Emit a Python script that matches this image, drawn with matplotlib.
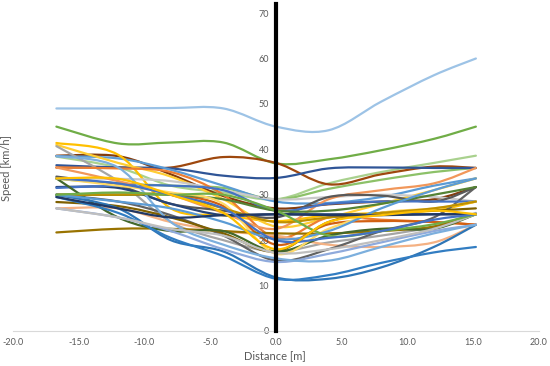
import matplotlib
matplotlib.use("Agg")
import matplotlib.pyplot as plt
from matplotlib.path import Path
from matplotlib.patches import PathPatch

plt.rcParams['font.family'] = ['Lato', 'DejaVu Sans']
plt.rcParams['axes.unicode_minus'] = False

## measurement positions along the track [m]
distance = [-16.7, -12, -8, -4, 0, 4, 8, 12, 15.2]

## speed profiles [km/h], one per run
run_colors = [
    '#9DC3E6', '#70AD47', '#A9D18E', '#8CC168', '#9E480E', '#843C0C',
    '#2F5597', '#5B9BD5', '#FFC000', '#FFCD33', '#A5A5A5', '#C9C9C9',
    '#ED7D31', '#F4B183', '#F1975A', '#D26012', '#636363', '#595959',
    '#264478', '#4472C4', '#997300', '#7F6000', '#43682B', '#548235',
    '#2E75B6', '#327DC2', '#8FAADC', '#7CAFDD', '#FFD966', '#BF9000',
    '#5B9BD5', '#203864', '#BFBFBF', '#70AD47', '#4472C4', '#FFC000',
]
run_speeds = [
    [49.0, 49.0, 49.1, 49.0, 45.0, 44.2, 50.5, 56.3, 60.0],
    [45.0, 41.3, 41.5, 41.5, 36.9, 37.8, 39.8, 42.3, 45.0],
    [38.4, 36.0, 32.0, 30.5, 29.0, 32.5, 35.0, 37.0, 38.6],
    [33.5, 32.5, 32.0, 31.5, 29.0, 31.3, 33.3, 35.0, 35.9],
    [36.0, 36.0, 36.0, 38.3, 37.0, 32.3, 34.5, 36.2, 35.9],
    [38.6, 38.5, 34.5, 29.7, 27.0, 27.9, 28.5, 29.0, 31.7],
    [36.5, 36.0, 35.8, 34.2, 33.7, 35.8, 36.0, 35.9, 35.9],
    [38.5, 38.0, 35.5, 32.0, 28.5, 28.2, 29.5, 32.0, 33.6],
    [41.4, 38.8, 27.0, 25.5, 24.2, 25.5, 26.0, 26.5, 28.5],
    [41.0, 37.0, 34.0, 29.0, 23.0, 25.0, 28.0, 31.0, 33.6],
    [40.7, 33.0, 24.0, 20.0, 17.5, 19.5, 21.0, 23.0, 26.0],
    [33.6, 33.5, 33.0, 31.0, 29.0, 29.5, 30.0, 29.5, 28.5],
    [36.0, 35.8, 35.0, 30.0, 20.5, 25.0, 24.5, 24.0, 23.4],
    [27.0, 27.0, 24.0, 22.0, 21.0, 19.0, 18.5, 19.5, 23.4],
    [36.0, 33.0, 30.0, 26.0, 22.5, 29.0, 31.0, 32.5, 35.9],
    [30.0, 30.0, 30.0, 27.5, 19.0, 23.5, 24.2, 24.0, 23.4],
    [30.0, 28.5, 25.5, 21.0, 15.5, 18.0, 22.0, 25.0, 31.7],
    [34.0, 32.0, 28.0, 26.5, 25.0, 29.5, 29.8, 28.5, 31.7],
    [31.7, 31.5, 28.0, 25.5, 25.7, 25.7, 25.7, 25.7, 25.7],
    [31.5, 32.0, 32.0, 31.0, 26.5, 28.0, 28.5, 28.5, 28.5],
    [21.7, 22.5, 22.5, 22.0, 21.5, 21.5, 22.0, 23.0, 25.7],
    [28.4, 27.5, 25.0, 21.5, 17.5, 24.0, 26.0, 26.5, 27.0],
    [33.6, 25.0, 22.0, 22.0, 17.5, 21.0, 22.5, 22.5, 25.7],
    [30.0, 30.0, 30.0, 29.0, 26.5, 26.5, 28.0, 30.0, 31.7],
    [30.0, 27.0, 20.0, 17.5, 11.8, 11.5, 14.0, 18.5, 23.4],
    [29.5, 26.0, 20.5, 16.5, 11.5, 12.3, 15.0, 17.3, 18.5],
    [27.0, 25.0, 22.0, 18.0, 15.2, 17.0, 19.5, 22.0, 23.4],
    [38.5, 36.0, 24.0, 19.0, 16.0, 15.5, 18.5, 21.5, 23.4],
    [33.6, 32.0, 30.5, 28.0, 17.0, 22.5, 26.0, 27.0, 28.5],
    [30.0, 30.0, 30.0, 27.0, 24.0, 25.0, 26.0, 27.0, 28.5],
    [30.0, 28.5, 27.0, 24.0, 20.2, 22.0, 27.0, 31.0, 33.6],
    [29.5, 27.0, 25.0, 25.5, 25.7, 25.5, 25.5, 25.7, 25.7],
    [27.0, 25.0, 22.5, 21.0, 17.2, 18.0, 20.0, 22.5, 25.7],
    [30.0, 30.5, 30.0, 30.0, 26.5, 21.0, 22.0, 23.5, 25.7],
    [33.6, 32.5, 30.0, 27.0, 20.0, 20.5, 22.0, 24.5, 25.7],
    [33.6, 33.5, 30.0, 26.0, 18.0, 24.0, 25.5, 26.5, 25.7],
]


def smooth_path(xs, ys):
    # Excel-style smoothed line: cubic bezier through every point
    pts = list(zip(xs, ys))
    n = len(pts)
    verts = [pts[0]]
    codes = [Path.MOVETO]
    for i in range(n - 1):
        p0 = pts[max(i - 1, 0)]
        p1 = pts[i]
        p2 = pts[i + 1]
        p3 = pts[min(i + 2, n - 1)]
        c1 = (p1[0] + (p2[0] - p0[0]) / 6, p1[1] + (p2[1] - p0[1]) / 6)
        c2 = (p2[0] - (p3[0] - p1[0]) / 6, p2[1] - (p3[1] - p1[1]) / 6)
        verts += [c1, c2, p2]
        codes += [Path.CURVE4] * 3
    return Path(verts, codes)


def main():
    fig = plt.figure(figsize=(5.5, 3.66), dpi=100)
    ax = fig.add_axes([13 / 550, 35 / 366, 526 / 550, 327 / 366])

    for color, speeds in zip(run_colors, run_speeds):
        patch = PathPatch(smooth_path(distance, speeds), facecolor='none',
                          edgecolor=color, lw=1.6, capstyle='round')
        ax.add_patch(patch)

    ax.set_xlim(-20, 20)
    ax.set_ylim(0, 72)
    ax.set_xticks(range(-20, 21, 5))
    ax.set_xticklabels(["{:.1f}".format(v) for v in range(-20, 21, 5)])
    ax.set_yticks(range(0, 71, 10))

    ax.spines['top'].set_visible(False)
    ax.spines['right'].set_visible(False)
    ax.spines['left'].set_position(('data', 0))
    ax.spines['left'].set_linewidth(3)
    ax.spines['left'].set_color('black')
    ax.spines['left'].set_zorder(5)
    ax.spines['bottom'].set_color('#D9D9D9')
    ax.spines['bottom'].set_linewidth(0.8)

    ax.tick_params(axis='both', length=0, labelsize=6.5, labelcolor='#595959')
    ax.tick_params(axis='y', pad=5)
    ax.tick_params(axis='x', pad=5)

    fig.text(0.5, 1 - 356 / 366, "Distance [m]", ha='center', va='center',
             fontsize=8, color='#595959')
    fig.text(7 / 550, 1 - 168 / 366, "Speed [km/h]", ha='center', va='center',
             rotation=90, fontsize=8, color='#595959')

    fig.savefig("out.png", dpi=100)


if __name__ == "__main__":
    main()
